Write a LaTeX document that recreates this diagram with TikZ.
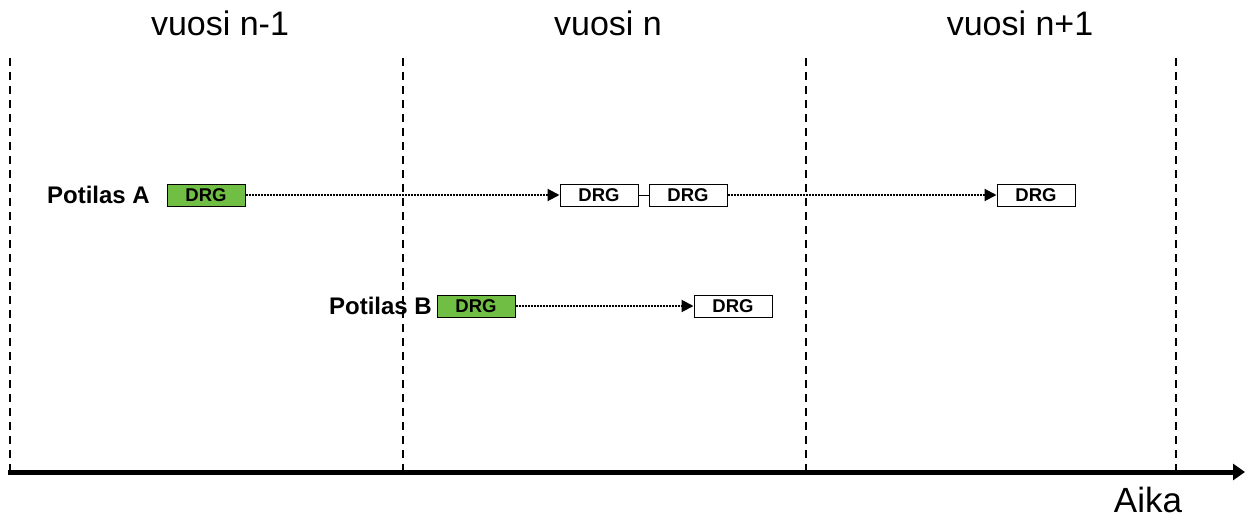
\documentclass[tikz,border=0pt]{standalone}
\usepackage{fontspec}
\setmainfont{Liberation Sans}
\usetikzlibrary{arrows.meta}
\definecolor{drggreen}{RGB}{112,190,68}

\tikzset{
  drgbox/.style={draw, line width=1pt, minimum width=78pt, minimum height=22pt,
    inner sep=0pt, font=\fontsize{18.5}{18.5}\selectfont\bfseries},
  firstdrg/.style={drgbox, fill=drggreen},
  nextdrg/.style={drgbox, fill=white},
  transfer/.style={line width=2pt, dash pattern=on 2pt off 1pt,
    -{Triangle[length=12pt,width=12pt]}},
  yearline/.style={line width=1.4pt, dash pattern=on 8pt off 6pt},
  patient/.style={font=\fontsize{24}{24}\selectfont\bfseries, inner sep=0pt},
  yearlabel/.style={font=\fontsize{34}{34}\selectfont, inner sep=0pt}
}

\begin{document}
\begin{tikzpicture}[x=1pt, y=-1pt]
\useasboundingbox (0,0) rectangle (1247,519);
\def \ytop{58};
\def \yaxis{472};
\def \rowa{195};
\def \rowb{306};
% year boundaries
\foreach \x in {10,403,806,1176} {
    \draw[yearline] (\x,\ytop) -- (\x,\yaxis-2);
}
% time axis
\coordinate (axisstart) at (8,\yaxis);
\coordinate (axisend) at (1245,\yaxis);
\draw[line width=5pt, -{Triangle[length=12pt,width=16pt]}] (axisstart) -- (axisend);
\node (aika) at (1148,500) [font=\fontsize{35}{35}\selectfont, inner sep=0pt] {Aika};
% years
\node (yprev) at (220,23) [yearlabel] {vuosi n-1};
\node (ycur) at (608,23) [yearlabel] {vuosi n};
\node (ynext) at (1020,23) [yearlabel] {vuosi n+1};
% patient A
\node (pa) at (150,\rowa) [patient, anchor=east] {Potilas A};
\node (a1) at (206,\rowa) [firstdrg] {DRG};
\node (a2) at (599,\rowa) [nextdrg] {DRG};
\node (a3) at (688,\rowa) [nextdrg] {DRG};
\node (a4) at (1036,\rowa) [nextdrg] {DRG};
\draw[transfer] (a1) -- (a2);
\draw[line width=1pt] (a2) -- (a3);
\draw[transfer] (a3) -- (a4);
% patient B
\node (pb) at (432,\rowb) [patient, anchor=east] {Potilas B};
\node (b1) at (476,\rowb) [firstdrg] {DRG};
\node (b2) at (733,\rowb) [nextdrg] {DRG};
\draw[transfer] (b1) -- (b2);
\end{tikzpicture}
\end{document}
